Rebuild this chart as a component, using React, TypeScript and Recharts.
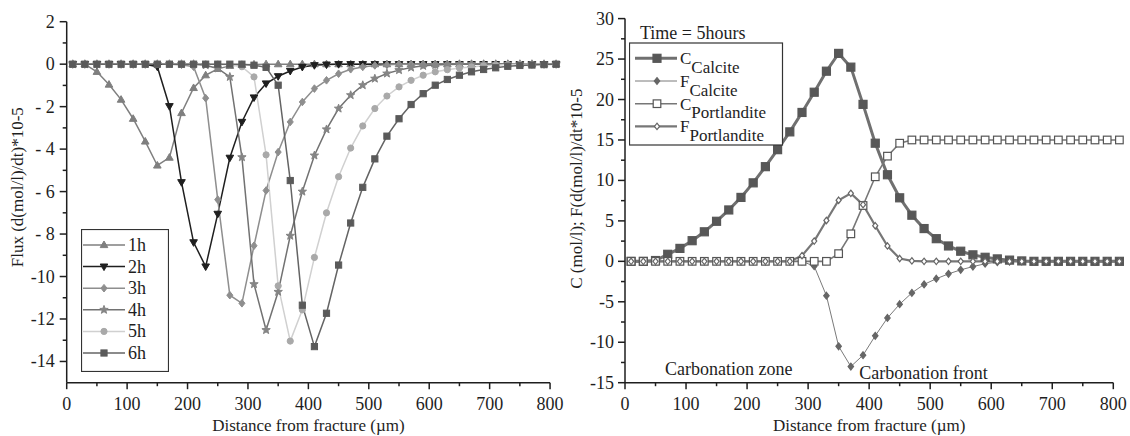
import React from 'react';
import { LineChart, Line, XAxis, YAxis, Legend, ReferenceLine, ReferenceDot, Label } from 'recharts';

const FONT = "'Liberation Serif', 'Times New Roman', serif";
const INK = '#1e1e1e';

// distance from fracture (µm), one sample every 20 µm
const distance = [10, 30, 50, 70, 90, 110, 130, 150, 170, 190, 210, 230, 250, 270, 290, 310, 330, 350, 370, 390, 410, 430, 450, 470, 490, 510, 530, 550, 570, 590, 610, 630, 650, 670, 690, 710, 730, 750, 770, 790, 810];

// flux, d(mol/l)/dt * 10^-5
const flux1h = [0, 0, -0.36, -0.96, -1.67, -2.57, -3.64, -4.77, -4.4, -2.3, -1.12, -0.52, -0.22, -0.08, -0.03, -0.01, 0, 0, 0, 0, 0, 0, 0, 0, 0, 0, 0, 0, 0, 0, 0, 0, 0, 0, 0, 0, 0, 0, 0, 0, 0];
const flux2h = [0, 0, 0, 0, 0, 0, 0, -0.12, -1.98, -5.56, -8.39, -9.53, -7.05, -4.41, -2.72, -1.57, -0.91, -0.57, -0.32, -0.13, -0.05, -0.02, 0, 0, 0, 0, 0, 0, 0, 0, 0, 0, 0, 0, 0, 0, 0, 0, 0, 0, 0];
const flux3h = [0, 0, 0, 0, 0, 0, 0, 0, 0, -0.03, -0.12, -1.6, -6.38, -10.88, -11.26, -8.55, -5.95, -4.14, -2.72, -1.78, -1.15, -0.76, -0.45, -0.24, -0.13, -0.06, -0.03, 0, 0, 0, 0, 0, 0, 0, 0, 0, 0, 0, 0, 0, 0];
const flux4h = [0, 0, 0, 0, 0, 0, 0, 0, 0, 0, 0, -0.05, -0.2, -0.6, -4.38, -10.36, -12.52, -10.72, -8.08, -6.0, -4.3, -3.07, -2.09, -1.46, -0.99, -0.68, -0.44, -0.28, -0.16, -0.08, -0.04, -0.02, 0, 0, 0, 0, 0, 0, 0, 0, 0];
const flux5h = [0, 0, 0, 0, 0, 0, 0, 0, 0, 0, 0, 0, 0, -0.03, -0.12, -0.6, -4.27, -10.44, -13.04, -11.57, -9.1, -7.0, -5.3, -3.95, -2.91, -2.09, -1.5, -1.07, -0.76, -0.52, -0.36, -0.26, -0.18, -0.13, -0.08, -0.05, -0.02, 0, 0, 0, 0];
const flux6h = [0, 0, 0, 0, 0, 0, 0, 0, 0, 0, 0, 0, 0, 0, 0, -0.05, -0.15, -0.99, -5.48, -11.35, -13.3, -11.73, -9.46, -7.48, -5.8, -4.46, -3.39, -2.57, -1.9, -1.39, -0.99, -0.72, -0.52, -0.36, -0.25, -0.17, -0.1, -0.06, -0.04, -0.02, 0];

// time = 5 hours
const cCalcite = [0, 0, 0.1, 0.87, 1.6, 2.55, 3.65, 4.95, 6.35, 7.9, 9.7, 11.7, 13.8, 16.0, 18.4, 20.9, 23.5, 25.7, 24.0, 19.4, 14.6, 10.7, 7.85, 5.7, 4.05, 2.8, 1.9, 1.25, 0.8, 0.5, 0.3, 0.15, 0.05, 0, 0, 0, 0, 0, 0, 0, 0];
const fCalcite = [0, 0, 0, 0, 0, 0, 0, 0, 0, 0, 0, 0, 0, 0, 0, -0.6, -4.25, -10.5, -13.0, -11.6, -9.2, -7.0, -5.3, -3.9, -2.85, -2.15, -1.55, -1.05, -0.65, -0.3, -0.1, -0.03, 0, 0, 0, 0, 0, 0, 0, 0, 0];
const cPortlandite = [0, 0, 0, 0, 0, 0, 0, 0, 0, 0, 0, 0, 0, 0, 0, 0, 0, 0.95, 3.4, 6.9, 10.45, 13.0, 14.6, 15, 15, 15, 15, 15, 15, 15, 15, 15, 15, 15, 15, 15, 15, 15, 15, 15, 15];
const fPortlandite = [0, 0, 0, 0, 0, 0, 0, 0, 0, 0, 0, 0, 0, 0, 0.7, 2.5, 5.05, 7.55, 8.4, 7.0, 4.4, 1.9, 0.35, 0.05, 0, 0, 0, 0, 0, 0, 0, 0, 0, 0, 0, 0, 0, 0, 0, 0, 0];

const xMajor = [0, 100, 200, 300, 400, 500, 600, 700, 800];
const xMinor = [50, 150, 250, 350, 450, 550, 650, 750];
const fluxMajor = [2, 0, -2, -4, -6, -8, -10, -12, -14];
const fluxMinor = [1, -1, -3, -5, -7, -9, -11, -13];
const concMajor = [30, 25, 20, 15, 10, 5, 0, -5, -10, -15];
const concMinor = [27.5, 22.5, 17.5, 12.5, 7.5, 2.5, -2.5, -7.5, -12.5];

const fluxData = distance.map((d, i) => ({
  d,
  h1: flux1h[i],
  h2: flux2h[i],
  h3: flux3h[i],
  h4: flux4h[i],
  h5: flux5h[i],
  h6: flux6h[i],
}));

const concData = distance.map((d, i) => ({
  d,
  cCal: cCalcite[i],
  fCal: fCalcite[i],
  cPort: cPortlandite[i],
  fPort: fPortlandite[i],
}));

const fluxSeries = [
  { key: 'h1', name: '1h', color: '#7f7f7f', dot: '#7f7f7f', shape: 'triUp', size: 4 },
  { key: 'h2', name: '2h', color: '#1f1f1f', dot: '#1f1f1f', shape: 'triDown', size: 4 },
  { key: 'h3', name: '3h', color: '#8e8e8e', dot: '#8e8e8e', shape: 'diamond', size: 3.8 },
  { key: 'h4', name: '4h', color: '#727272', dot: '#858585', shape: 'star', size: 4.4 },
  { key: 'h5', name: '5h', color: '#d0d0d0', dot: '#a9a9a9', shape: 'circle', size: 3.1 },
  { key: 'h6', name: '6h', color: '#646464', dot: '#5a5a5a', shape: 'square', size: 3.1 },
];

const concSeries = [
  { key: 'cCal', letter: 'C', sub: 'Calcite', color: '#707070', width: 3, shape: 'square', size: 4, fill: '#575757', stroke: '#575757' },
  { key: 'fCal', letter: 'F', sub: 'Calcite', color: '#7a7a7a', width: 1, shape: 'diamond', size: 3.4, fill: '#666666', stroke: '#666666' },
  { key: 'cPort', letter: 'C', sub: 'Portlandite', color: '#777777', width: 1.6, shape: 'square', size: 3.8, fill: '#ffffff', stroke: '#555555' },
  { key: 'fPort', letter: 'F', sub: 'Portlandite', color: '#777777', width: 2.2, shape: 'diamond', size: 3.2, fill: '#ffffff', stroke: '#666666' },
];

function Marker({ cx, cy, shape, size, fill, stroke, strokeWidth = 1 }: any) {
  if (cx == null || cy == null) return null;
  const s = size;
  const common = { fill, stroke, strokeWidth };
  if (shape === 'triUp') {
    return <polygon {...common} points={`${cx},${cy - s} ${cx + s * 0.95},${cy + s * 0.65} ${cx - s * 0.95},${cy + s * 0.65}`} />;
  }
  if (shape === 'triDown') {
    return <polygon {...common} points={`${cx},${cy + s} ${cx + s * 0.95},${cy - s * 0.65} ${cx - s * 0.95},${cy - s * 0.65}`} />;
  }
  if (shape === 'diamond') {
    return <polygon {...common} points={`${cx},${cy - s} ${cx + s * 0.8},${cy} ${cx},${cy + s} ${cx - s * 0.8},${cy}`} />;
  }
  if (shape === 'star') {
    const pts: string[] = [];
    for (let k = 0; k < 10; k++) {
      const r = k % 2 === 0 ? s : s * 0.42;
      const a = -Math.PI / 2 + (k * Math.PI) / 5;
      pts.push(`${cx + r * Math.cos(a)},${cy + r * Math.sin(a)}`);
    }
    return <polygon {...common} points={pts.join(' ')} />;
  }
  if (shape === 'circle') {
    return <circle {...common} cx={cx} cy={cy} r={s} />;
  }
  return <rect {...common} x={cx - s} y={cy - s} width={s * 2} height={s * 2} />;
}

const XTick = (p: any) => {
  const v = p.payload.value;
  const major = xMajor.includes(v);
  return (
    <g>
      <line x1={p.x} x2={p.x} y1={p.y} y2={p.y + (major ? 6.5 : 3.5)} stroke={INK} strokeWidth={1.5} />
      {major && (
        <text x={p.x} y={p.y + 27.5} textAnchor="middle" fontFamily={FONT} fontSize={18} fill={INK}>
          {v}
        </text>
      )}
    </g>
  );
};

const makeYTick = (major: number[], fmt: (v: number) => string, gap: number) => (p: any) => {
  const v = p.payload.value;
  const isMajor = major.includes(v);
  return (
    <g>
      <line x1={p.x - (isMajor ? 7 : 4)} x2={p.x} y1={p.y} y2={p.y} stroke={INK} strokeWidth={1.5} />
      {isMajor && (
        <text x={p.x - gap} y={p.y + 6} textAnchor="end" fontFamily={FONT} fontSize={18} fill={INK}>
          {fmt(v)}
        </text>
      )}
    </g>
  );
};

const fluxYTick = makeYTick(fluxMajor, (v) => (v < 0 && v > -10 ? `- ${-v}` : String(v)), 12);
const concYTick = makeYTick(concMajor, (v) => String(v), 11);

const xTitle = (props: any) => {
  const vb = props.viewBox;
  const cx = vb.x + (vb.width * 800) / 810 / 2;
  return (
    <text x={cx} y={vb.y + 48} textAnchor="middle" fontFamily={FONT} fontSize={17} fill={INK}>
      Distance from fracture (µm)
    </text>
  );
};

const yTitle = (text: string, dx: number, dy: number) => (props: any) => {
  const vb = props.viewBox;
  const cx = vb.x + dx;
  const cy = vb.y + vb.height / 2 + dy;
  return (
    <text
      x={cx}
      y={cy}
      transform={`rotate(-90 ${cx} ${cy})`}
      textAnchor="middle"
      dominantBaseline="central"
      fontFamily={FONT}
      fontSize={17}
      fill={INK}
    >
      {text}
    </text>
  );
};

const FluxLegend = () => (
  <svg width={88} height={143} style={{ display: 'block' }}>
    <rect x={0.5} y={0.5} width={87} height={142} fill="#fff" stroke="#333" strokeWidth={1.2} />
    {fluxSeries.map((s, i) => {
      const y = 16 + i * 21.6;
      return (
        <g key={s.key}>
          <line x1={2} x2={44} y1={y} y2={y} stroke={s.color} strokeWidth={1.5} />
          <Marker cx={23} cy={y} shape={s.shape} size={s.size} fill={s.dot} stroke={s.dot} />
          <text x={47} y={y + 6} fontFamily={FONT} fontSize={18} fill={INK}>
            {s.name}
          </text>
        </g>
      );
    })}
  </svg>
);

const ConcLegend = () => (
  <svg width={160} height={130} style={{ display: 'block' }}>
    <text x={11} y={21} fontFamily={FONT} fontSize={18} fill={INK}>
      Time = 5hours
    </text>
    <rect x={0.5} y={25} width={153} height={102} fill="#fff" stroke="#333" strokeWidth={1.2} />
    {concSeries.map((s, i) => {
      const y = 40.3 + i * 22.7;
      return (
        <g key={s.key}>
          <line x1={6} x2={48} y1={y} y2={y} stroke={s.color} strokeWidth={s.width} />
          <Marker cx={28} cy={y} shape={s.shape} size={s.size} fill={s.fill} stroke={s.stroke} strokeWidth={1.2} />
          <text x={51} y={y + 6} fontFamily={FONT} fontSize={17} fill={INK}>
            <tspan>{s.letter}</tspan>
            <tspan dy={8.5}>{s.sub}</tspan>
          </text>
        </g>
      );
    })}
  </svg>
);

const App = () => {
  return (
    <div style={{ position: 'absolute', left: 0, top: 0, width: 1130, height: 436, background: '#fff' }}>
      <div style={{ position: 'absolute', left: 0, top: 0 }}>
        <LineChart width={578} height={436} data={fluxData} margin={{ top: 21.7, right: 21.9, bottom: 0, left: 16.7 }}>
          <XAxis
            type="number"
            dataKey="d"
            domain={[0, 810]}
            ticks={[...xMajor, ...xMinor]}
            interval={0}
            axisLine={false}
            tickLine={false}
            tickSize={0}
            tickMargin={0}
            height={53.3}
            tick={XTick}
          >
            <Label content={xTitle} />
          </XAxis>
          <YAxis
            type="number"
            domain={[-15, 2]}
            ticks={[...fluxMajor, ...fluxMinor]}
            interval={0}
            axisLine={{ stroke: INK, strokeWidth: 1.5 }}
            tickLine={false}
            tickSize={0}
            tickMargin={0}
            width={50}
            tick={fluxYTick}
          >
            <Label content={yTitle('Flux (d(mol/l)/dt)*10-5', 1.3, -15)} />
          </YAxis>
          <ReferenceLine segment={[{ x: 0, y: -15 }, { x: 800, y: -15 }]} stroke={INK} strokeWidth={1.5} />
          {fluxSeries.map((s) => (
            <Line
              key={s.key}
              type="linear"
              dataKey={s.key}
              name={s.name}
              stroke={s.color}
              strokeWidth={1.5}
              isAnimationActive={false}
              activeDot={false}
              dot={(p: any) => (
                <Marker key={`${s.key}-${p.index}`} cx={p.cx} cy={p.cy} shape={s.shape} size={s.size} fill={s.dot} stroke={s.dot} />
              )}
            />
          ))}
          <Legend
            layout="vertical"
            align="center"
            verticalAlign="middle"
            wrapperStyle={{ left: 81, top: 229, width: 88, height: 143 }}
            content={() => <FluxLegend />}
          />
        </LineChart>
      </div>
      <div style={{ position: 'absolute', left: 560, top: 0 }}>
        <LineChart width={570} height={436} data={concData} margin={{ top: 18.6, right: 10.6, bottom: 0, left: 15 }}>
          <XAxis
            type="number"
            dataKey="d"
            domain={[0, 810]}
            ticks={[...xMajor, ...xMinor]}
            interval={0}
            axisLine={false}
            tickLine={false}
            tickSize={0}
            tickMargin={0}
            height={53.3}
            tick={XTick}
          >
            <Label content={xTitle} />
          </XAxis>
          <YAxis
            type="number"
            domain={[-15, 30]}
            ticks={[...concMajor, ...concMinor]}
            interval={0}
            axisLine={{ stroke: INK, strokeWidth: 1.5 }}
            tickLine={false}
            tickSize={0}
            tickMargin={0}
            width={50}
            tick={concYTick}
          >
            <Label content={yTitle('C (mol/l); F(d(mol/l)/dt*10-5', 2, -12)} />
          </YAxis>
          <ReferenceLine segment={[{ x: 0, y: -15 }, { x: 800, y: -15 }]} stroke={INK} strokeWidth={1.5} />
          {concSeries.map((s) => (
            <Line
              key={s.key}
              type="linear"
              dataKey={s.key}
              name={`${s.letter} ${s.sub}`}
              stroke={s.color}
              strokeWidth={s.width}
              isAnimationActive={false}
              activeDot={false}
              dot={(p: any) => (
                <Marker
                  key={`${s.key}-${p.index}`}
                  cx={p.cx}
                  cy={p.cy}
                  shape={s.shape}
                  size={s.size}
                  fill={s.fill}
                  stroke={s.stroke}
                  strokeWidth={1.2}
                />
              )}
            />
          ))}
          <ReferenceDot
            x={170}
            y={-13.2}
            r={0}
            fill="none"
            stroke="none"
            label={{ value: 'Carbonation zone', position: 'center', fill: INK, fontSize: 18, fontFamily: FONT }}
          />
          <ReferenceDot
            x={489}
            y={-13.7}
            r={0}
            fill="none"
            stroke="none"
            label={{ value: 'Carbonation front', position: 'center', fill: INK, fontSize: 18, fontFamily: FONT }}
          />
          <Legend
            layout="vertical"
            align="center"
            verticalAlign="middle"
            wrapperStyle={{ left: 69, top: 18, width: 160, height: 130 }}
            content={() => <ConcLegend />}
          />
        </LineChart>
      </div>
    </div>
  );
};

export default App;
